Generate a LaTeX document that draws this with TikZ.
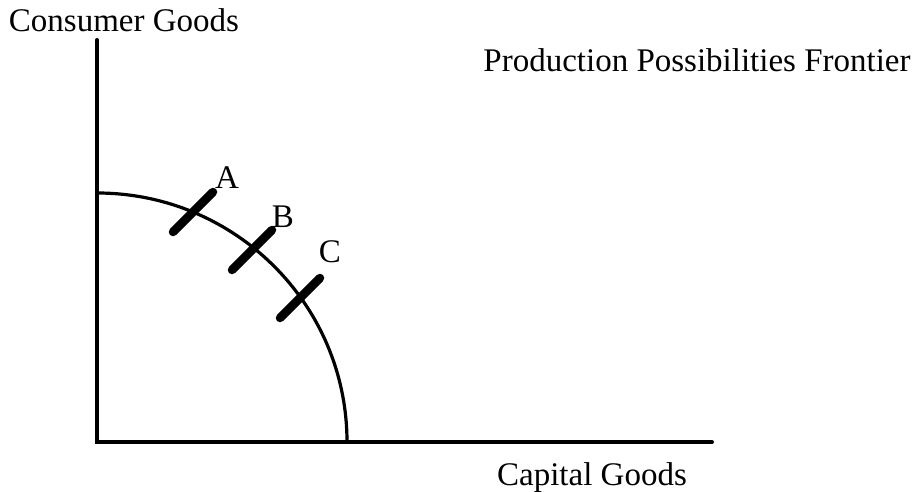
\documentclass[tikz,border=0pt]{standalone}
\usepackage{fontspec}
\setmainfont{Liberation Serif}
\usetikzlibrary{calc}
\tikzset{
  axis/.style={line width=4pt,line cap=round},
  ppf/.style={line width=3.2pt},
  mark tick/.style={line width=8.5pt,line cap=round},
  lbl/.style={font=\fontsize{33}{38}\selectfont,anchor=base,inner sep=0pt}
}

\begin{document}
\begin{tikzpicture}[x=1pt,y=-1pt]
  \useasboundingbox (0,0) rectangle (915,492);
  % axes
  \coordinate (origin) at (97,442);
  \coordinate (ytop) at (97,40);
  \coordinate (xend) at (712,442);
  \draw[axis] (ytop) -- (origin) -- (xend);

  % frontier
  \draw[ppf] (97,193) arc[start angle=-90,end angle=0,x radius=250,y radius=249];

  % points on the frontier
  \coordinate (ptA) at (193,212);
  \coordinate (ptB) at (252,250);
  \coordinate (ptC) at (300,298);
  \draw[mark tick] ($(ptA)+(-20,20)$) -- ($(ptA)+(20,-20)$);
  \draw[mark tick] ($(ptB)+(-20,20)$) -- ($(ptB)+(20,-20)$);
  \draw[mark tick] ($(ptC)+(-20,20)$) -- ($(ptC)+(20,-20)$);
  \node[lbl] (labA) at (227,188) {A};
  \node[lbl] (labB) at (283,227) {B};
  \node[lbl] (labC) at (330,262) {C};

  % titles
  \node[lbl] (ylab) at (124,32) {Consumer Goods};
  \node[lbl] (title) at (697,72) {Production Possibilities Frontier};
  \node[lbl] (xlab) at (592,485) {Capital Goods};
\end{tikzpicture}
\end{document}
